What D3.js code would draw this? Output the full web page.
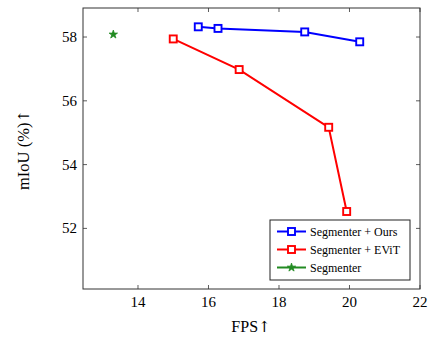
<!DOCTYPE html>
<html>
<head>
<meta charset="utf-8">
<script src="https://cdn.jsdelivr.net/npm/d3@7"></script>
<style>
  body { margin: 0; background: #fff; }
</style>
</head>
<body>
<div id="viz"></div>
<script>
// data
const oursFps = [15.71, 16.27, 18.73, 20.29];
const oursMiou = [58.32, 58.27, 58.16, 57.85];
const evitFps = [15.0, 16.87, 19.41, 19.92];
const evitMiou = [57.94, 56.98, 55.17, 52.53];
const baseFps = [13.3];
const baseMiou = [58.08];
const xTicks = [14, 16, 18, 20, 22];
const yTicks = [52, 54, 56, 58];

const seriesNames = ['Segmenter + Ours', 'Segmenter + EViT', 'Segmenter'];
const seriesColors = ['#0000ff', '#ff0000', '#228b22'];

const width = 429, height = 339;
const margin = { top: 8, right: 9, bottom: 50, left: 83 };
const serif = 'Liberation Serif';

const x = d3.scaleLinear().domain([12.44, 22]).range([margin.left, width - margin.right]);
const y = d3.scaleLinear().domain([50.1, 58.91]).range([height - margin.bottom, margin.top]);

const svg = d3.select('#viz').append('svg')
  .attr('width', width)
  .attr('height', height)
  .style('font-family', serif);

const zip = (xs, ys) => xs.map((v, i) => ({ x: v, y: ys[i] }));
const series = [
  zip(oursFps, oursMiou),
  zip(evitFps, evitMiou),
  zip(baseFps, baseMiou)
];

// ticks on all four sides, pointing inward
const tickLen = 4;
const axisColor = '#333';
const gx = svg.append('g').attr('stroke', axisColor).attr('stroke-width', 0.8);
xTicks.forEach(t => {
  gx.append('line').attr('x1', x(t)).attr('x2', x(t))
    .attr('y1', y.range()[0]).attr('y2', y.range()[0] - tickLen);
  gx.append('line').attr('x1', x(t)).attr('x2', x(t))
    .attr('y1', y.range()[1]).attr('y2', y.range()[1] + tickLen);
});
yTicks.forEach(t => {
  gx.append('line').attr('y1', y(t)).attr('y2', y(t))
    .attr('x1', x.range()[0]).attr('x2', x.range()[0] + tickLen);
  gx.append('line').attr('y1', y(t)).attr('y2', y(t))
    .attr('x1', x.range()[1]).attr('x2', x.range()[1] - tickLen);
});

svg.append('g').selectAll('text').data(xTicks).join('text')
  .attr('x', d => x(d)).attr('y', y.range()[0] + 17.5)
  .attr('text-anchor', 'middle')
  .attr('font-size', 15)
  .text(d => d);

svg.append('g').selectAll('text').data(yTicks).join('text')
  .attr('x', x.range()[0] - 6).attr('y', d => y(d) + 5)
  .attr('text-anchor', 'end')
  .attr('font-size', 15)
  .text(d => d);

// lines
const line = d3.line().x(d => x(d.x)).y(d => y(d.y));
series.forEach((s, i) => {
  svg.append('path').datum(s)
    .attr('d', line)
    .attr('fill', 'none')
    .attr('stroke', seriesColors[i])
    .attr('stroke-width', 2);
});

const star = d3.symbol().type(d3.symbolStar).size(22);

function drawMarker(g, cx, cy, i) {
  if (i < 2) {
    g.append('rect')
      .attr('x', cx - 3.5).attr('y', cy - 3.5)
      .attr('width', 7).attr('height', 7)
      .attr('fill', '#fff')
      .attr('stroke', seriesColors[i])
      .attr('stroke-width', 1.9);
  } else {
    g.append('path')
      .attr('d', star())
      .attr('transform', `translate(${cx},${cy})`)
      .attr('fill', seriesColors[i])
      .attr('stroke', seriesColors[i])
      .attr('stroke-width', 0.8);
  }
}

series.forEach((s, i) => {
  const g = svg.append('g');
  s.forEach(d => drawMarker(g, x(d.x), y(d.y), i));
});

// frame
svg.append('rect')
  .attr('x', x.range()[0]).attr('y', y.range()[1])
  .attr('width', x.range()[1] - x.range()[0])
  .attr('height', y.range()[0] - y.range()[1])
  .attr('fill', 'none')
  .attr('stroke', axisColor)
  .attr('stroke-width', 1);

// legend
const legend = svg.append('g').attr('transform', 'translate(270,220)');
legend.append('rect')
  .attr('width', 140).attr('height', 60)
  .attr('fill', '#fff')
  .attr('stroke', '#222')
  .attr('stroke-width', 1);
seriesNames.forEach((name, i) => {
  const ly = 11.5 + i * 18;
  legend.append('line')
    .attr('x1', 7).attr('x2', 36).attr('y1', ly).attr('y2', ly)
    .attr('stroke', seriesColors[i]).attr('stroke-width', 2);
  drawMarker(legend, 21.5, ly, i);
  legend.append('text')
    .attr('x', 40).attr('y', ly + 4)
    .attr('font-size', 12)
    .text(name);
});

// axis labels, arrow taken from a font with a taller glyph
const xLabel = svg.append('text')
  .attr('x', 251).attr('y', 332)
  .attr('text-anchor', 'middle')
  .attr('font-size', 16);
xLabel.append('tspan').text('FPS');
xLabel.append('tspan').attr('font-family', 'DejaVu Serif').attr('font-size', 15).text('↑');

const yLabel = svg.append('text')
  .attr('transform', `translate(29,150) rotate(-90)`)
  .attr('text-anchor', 'middle')
  .attr('font-size', 16.5);
yLabel.append('tspan').text('mIoU (%)');
yLabel.append('tspan').attr('font-family', 'DejaVu Serif').attr('font-size', 15).text('↑');
</script>
</body>
</html>
